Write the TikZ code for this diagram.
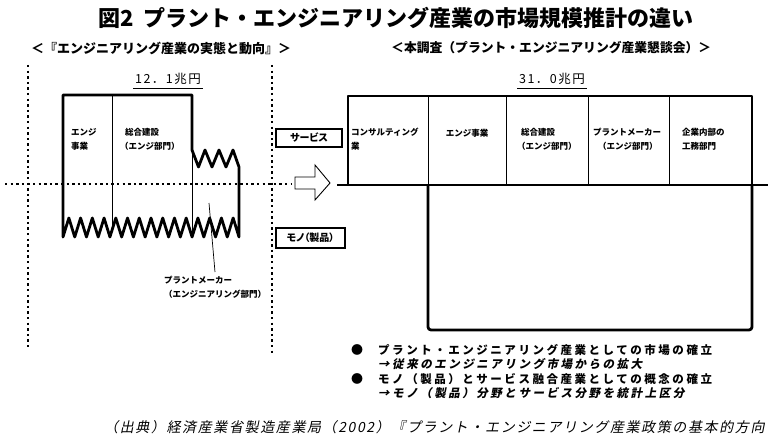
\documentclass[tikz,border=0pt]{standalone}
\usepackage{fontspec}
\setmainfont{Noto Sans CJK JP}
\newfontfamily\jpp{Noto Sans CJK JP}[RawFeature=+palt]
\newfontfamily\jptot{Noto Sans CJK JP}[LetterSpace=12]
\newfontfamily\jpsp{Noto Sans CJK JP}[LetterSpace=22]
\newfontfamily\jpspit{Noto Sans CJK JP}[LetterSpace=22,FakeSlant=0.2]
\newfontfamily\jpit{Noto Sans CJK JP}[LetterSpace=11.5,FakeSlant=0.2]
\tikzset{
  thickln/.style={line width=2.8pt, line join=round},
  thinln/.style={line width=0.9pt},
  dotln/.style={line width=2.4pt, dash pattern=on 2.4pt off 3.2pt},
  lbl/.style={inner sep=0pt, font=\bfseries\fontsize{8.5}{14}\selectfont, align=left},
  tagbox/.style={draw, line width=1.1pt, inner sep=0pt, font=\jpp\bfseries\fontsize{10}{12}\selectfont},
  bul/.style={inner sep=0pt, anchor=west, font=\jpsp\bfseries\fontsize{11.5}{13}\selectfont},
  bulit/.style={inner sep=0pt, anchor=west, font=\jpspit\bfseries\fontsize{11.5}{13}\selectfont},
  total/.style={inner sep=0pt, font=\jptot\fontsize{12.5}{14}\selectfont},
}
\begin{document}
\begin{tikzpicture}[x=1pt,y=-1pt]
\useasboundingbox[fill=white] (0,0) rectangle (768,441);

% titles
\node[inner sep=0pt, font=\bfseries\fontsize{22}{24}\selectfont] (title) at (396,18) {図2\hspace{0.45em}プラント・エンジニアリング産業の市場規模推計の違い};
\node[inner sep=0pt, anchor=west, font=\bfseries\fontsize{13}{15}\selectfont] (subl) at (31,48) {＜『エンジニアリング産業の実態と動向』＞};
\node[inner sep=0pt, anchor=west, font=\bfseries\fontsize{12.8}{15}\selectfont] (subr) at (391,48) {＜本調査（プラント・エンジニアリング産業懇談会）＞};
\node[total] (totl) at (168,79) {12．1兆円};
\node[total] (totr) at (552,79) {31．0兆円};
\draw[line width=0.9pt] (133,88) -- (203,88);
\draw[line width=0.9pt] (517,88) -- (587,88);

% dotted guide lines
\draw[dotln] (28,65) -- (28,350);
\draw[dotln] (272,65) -- (272,354);

% left box
\begin{scope}
\clip (63,237) -- (63,95) -- (192,95) -- (192,150) -- (198.5,167) -- (205,150) -- (212,167) -- (219,150) -- (226,167) -- (233,150) -- (239,167) -- (239,237)
 -- (233.13,218) -- (227.27,237) -- (221.4,218) -- (215.53,237) -- (209.67,218) -- (203.8,237) -- (197.93,218) -- (192.07,237)
 -- (186.2,218) -- (180.33,237) -- (174.47,218) -- (168.6,237) -- (162.73,218) -- (156.87,237) -- (151,218) -- (145.13,237)
 -- (139.27,218) -- (133.4,237) -- (127.53,218) -- (121.67,237) -- (115.8,218) -- (109.93,237) -- (104.07,218) -- (98.2,237)
 -- (92.33,218) -- (86.47,237) -- (80.6,218) -- (74.73,237) -- (68.87,218) -- cycle;
\draw[thinln] (112,90) -- (112,240);
\draw[thinln] (192,90) -- (192,240);
\end{scope}
\draw[thickln] (63,237) -- (63,95) -- (192,95) -- (192,150) -- (198.5,167) -- (205,150) -- (212,167) -- (219,150) -- (226,167) -- (233,150) -- (239,167) -- (239,237)
 -- (233.13,218) -- (227.27,237) -- (221.4,218) -- (215.53,237) -- (209.67,218) -- (203.8,237) -- (197.93,218) -- (192.07,237)
 -- (186.2,218) -- (180.33,237) -- (174.47,218) -- (168.6,237) -- (162.73,218) -- (156.87,237) -- (151,218) -- (145.13,237)
 -- (139.27,218) -- (133.4,237) -- (127.53,218) -- (121.67,237) -- (115.8,218) -- (109.93,237) -- (104.07,218) -- (98.2,237)
 -- (92.33,218) -- (86.47,237) -- (80.6,218) -- (74.73,237) -- (68.87,218) -- cycle;

\draw[dotln] (5,184) -- (292,184);

\node[lbl, anchor=west] (lengi) at (71,139) {エンジ\\事業};
\node[lbl, anchor=west] (lsogo) at (120,139) {\hspace{5pt}総合建設\\（エンジ部門）};
\coordinate (pm1) at (209,203);
\coordinate (pm2) at (215,272);
\draw[line width=0.7pt] (pm1) -- (pm2);
\node[lbl, anchor=north west] (lpm) at (164,276) {プラントメーカー\\（エンジニアリング部門）};

% tags
\node[tagbox, minimum width=66pt, minimum height=18pt] (svc) at (309,138) {サービス};
\node[tagbox, minimum width=69pt, minimum height=20pt] (mono) at (310.5,238) {モノ（製品）};

% block arrow
\draw[line width=0.9pt, fill=white] (295,177) -- (315,177) -- (315,165) -- (330,183) -- (315,200) -- (315,189) -- (295,189) -- cycle;

% right box
\draw[thinln] (428,96) -- (428,185);
\draw[thinln] (506,96) -- (506,185);
\draw[thinln] (588,96) -- (588,185);
\draw[thinln] (669,96) -- (669,185);
\draw[thickln] (348,185) -- (348,96) -- (752,96) -- (752,185);
\draw[thickln, rounded corners=3pt] (428,185) -- (428,330) -- (752,330) -- (752,185);
\draw[thickln] (337,185) -- (768,185);

\node[lbl, anchor=west] (rcon) at (351,139) {コンサルティング\\業};
\node[lbl] (reng) at (467,133) {エンジ事業};
\node[lbl, anchor=west] (rsogo) at (517,139) {\hspace{4pt}総合建設\\（エンジ部門）};
\node[lbl, anchor=west] (rpm) at (593,139) {プラントメーカー\\\hspace{5pt}（エンジ部門）};
\node[lbl, anchor=west] (rin) at (682,139) {企業内部の\\工務部門};

% bullets
\node[inner sep=0pt, font=\fontsize{12}{12}\selectfont] (b1) at (357,350) {●};
\node[bul] (t1) at (378,350) {プラント・エンジニアリング産業としての市場の確立};
\node[bulit] (t2) at (378,364.5) {→従来のエンジニアリング市場からの拡大};
\node[inner sep=0pt, font=\fontsize{12}{12}\selectfont] (b2) at (357,379) {●};
\node[bul] (t3) at (378,379) {モノ（製品）とサービス融合産業としての概念の確立};
\node[bulit] (t4) at (378,393.5) {→モノ（製品）分野とサービス分野を統計上区分};

% source
\node[inner sep=0pt, anchor=west, font=\jpit\fontsize{14}{16}\selectfont] (src) at (104,427) {（出典）経済産業省製造産業局（2002）『プラント・エンジニアリング産業政策の基本的方向};
\end{tikzpicture}
\end{document}
